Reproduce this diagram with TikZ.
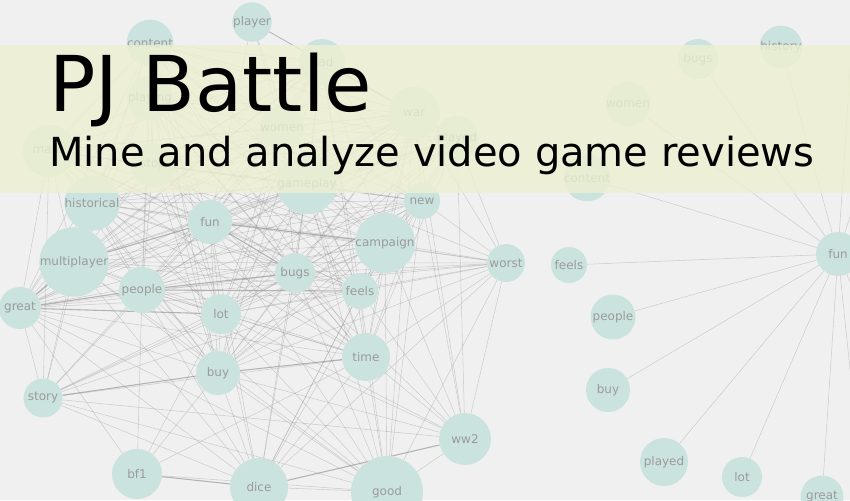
\documentclass[tikz,border=0pt]{standalone}
\usepackage{fontspec}
\setmainfont{DejaVu Sans}
\pgfdeclarelayer{back}
\pgfdeclarelayer{edges}
\pgfdeclarelayer{front}
\pgfsetlayers{back,edges,main,front}
\definecolor{bgcol}{RGB}{240,240,240}
\definecolor{nodefill}{RGB}{203,227,222}
\definecolor{labelgray}{RGB}{155,155,155}
\definecolor{edgegray}{RGB}{150,150,150}
\definecolor{bannerfill}{RGB}{237,240,208}
\tikzset{
  word/.style={circle, fill=nodefill, draw=none, inner sep=0pt, minimum size=#1,
    text=labelgray, font=\fontsize{12}{13}\selectfont},
  word/.default=40,
  link/.style={draw=edgegray, line width=0.55pt, opacity=0.38},
  heavy/.style={draw=edgegray, line width=1.1pt, opacity=0.55},
  banner/.style={fill=bannerfill, fill opacity=0.8},
  titletext/.style={anchor=base west, inner sep=0pt, text=black}
}
\begin{document}
\begin{tikzpicture}[x=1pt,y=-1pt]
\useasboundingbox (0,0) rectangle (850,500);
\begin{pgfonlayer}{back}
  \fill[bgcol] (0,0) rectangle (850,500);
\end{pgfonlayer}

% left network
\node[word=35] (player) at (252,22) {player};
\node[word=44] (content) at (150,43) {content};
\node[word=46] (bad) at (322,62) {bad};
\node[word=44] (playing) at (150,98) {playing};
\node[word=52] (maps) at (49,151) {maps};
\node[word=44] (stop) at (153,165) {stop};
\node[word=40] (women) at (282,128) {women};
\node[word=52] (war) at (414,113) {war};
\node[word=44] (played) at (457,138) {played};
\node[word=44] (gameplay) at (307,184) {gameplay};
\node[word=33] (historical) at (92,203) {historical};
\node[word=44] (fun) at (210,222) {fun};
\node[word=36] (new) at (422,201) {new};
\node[word=45] (campaign) at (385,243) {campaign};
\node[word=55] (multiplayer) at (74,262) {multiplayer};
\node[word=46] (people) at (142,290) {people};
\node[word=42] (great) at (20,308) {great};
\node[word=40] (bugs) at (295,273) {bugs};
\node[word=40] (lot) at (221,314) {lot};
\node[word=36] (feels) at (360,291) {feels};
\node[word=38] (worst) at (506,263) {worst};
\node[word=48] (time) at (366,357) {time};
\node[word=44] (buy) at (218,373) {buy};
\node[word=39] (story) at (43,398) {story};
\node[word=52] (ww2) at (465,439) {ww2};
\node[word=50] (bf1) at (137,474) {bf1};
\node[word=58] (dice) at (259,487) {dice};
\node[word=72] (good) at (387,492) {good};

% right network
\node[word=40] (rbugs) at (698,59) {bugs};
\node[word=40] (rhistory) at (781,47) {history};
\node[word=38] (rwomen) at (628,104) {women};
\node[word=44] (rcontent) at (587,178) {content};
\node[word=36] (rfeels) at (569,265) {feels};
\node[word=44] (rfun) at (838,254) {fun};
\node[word=45] (rpeople) at (613,317) {people};
\node[word=44] (rbuy) at (608,390) {buy};
\node[word=48] (rplayed) at (664,462) {played};
\node[word=40] (rlot) at (742,477) {lot};
\node[word=43] (rgreat) at (822,497) {great};
\coordinate (offa) at (856,-20);
\coordinate (offb) at (900,60);
\coordinate (offc) at (870,560);
\coordinate (offd) at (910,420);

\begin{pgfonlayer}{edges}
  \def\corelist{content,bad,playing,maps,stop,women,war,played,gameplay,historical,fun,new,campaign,multiplayer,people,great,bugs,lot,feels,time,buy}
  \foreach \a [count=\i] in \corelist {
    \foreach \b [count=\j] in \corelist {
      \ifnum\j>\i \draw[link] (\a) -- (\b); \fi
    }
  }
  \foreach \a/\b in {player/bad, player/women, player/war, player/gameplay, player/fun, player/played,
    worst/new, worst/war, worst/played, worst/campaign, worst/bugs, worst/feels, worst/people,
    worst/lot, worst/great, worst/multiplayer, worst/fun, worst/gameplay, worst/time, worst/buy,
    worst/good, worst/ww2, worst/dice, worst/historical,
    story/great, story/multiplayer, story/people, story/fun, story/lot, story/buy, story/historical,
    story/maps, story/bugs, story/campaign, story/dice, story/time, story/good, story/ww2, story/feels,
    ww2/time, ww2/buy, ww2/good, ww2/campaign, ww2/new, ww2/played, ww2/war, ww2/bugs, ww2/feels,
    ww2/dice, ww2/people, ww2/lot,
    bf1/dice, bf1/good, bf1/buy, bf1/people, bf1/lot, bf1/time, bf1/great,
    dice/good, dice/buy, dice/lot, dice/people, dice/fun, dice/time, dice/campaign, dice/bugs,
    dice/feels, dice/great, dice/multiplayer, dice/new, dice/gameplay,
    good/time, good/buy, good/lot, good/bugs, good/campaign, good/new, good/fun, good/people,
    good/feels, good/great, good/gameplay, good/war, good/multiplayer}
    \draw[link] (\a) -- (\b);
  \foreach \a/\b in {great/lot, great/people, story/buy, buy/time, bf1/dice, dice/ww2,
    people/feels, multiplayer/fun, fun/campaign, bugs/people, great/multiplayer, fun/bugs}
    \draw[heavy] (\a) -- (\b);
  \foreach \b in {rbugs, rhistory, rwomen, rcontent, rfeels, rpeople, rbuy, rplayed, rlot, rgreat, offa, offb, offc, offd}
    \draw[link] (rfun) -- (\b);
\end{pgfonlayer}

\begin{pgfonlayer}{front}
  \fill[banner] (0,45) rectangle (850,193);
  \node[titletext, font=\fontsize{77}{82}\selectfont] (title) at (49,111) {PJ Battle};
  \node[titletext, font=\fontsize{40}{44}\selectfont] (subtitle) at (49,166) {Mine and analyze video game reviews};
\end{pgfonlayer}
\end{tikzpicture}
\end{document}
